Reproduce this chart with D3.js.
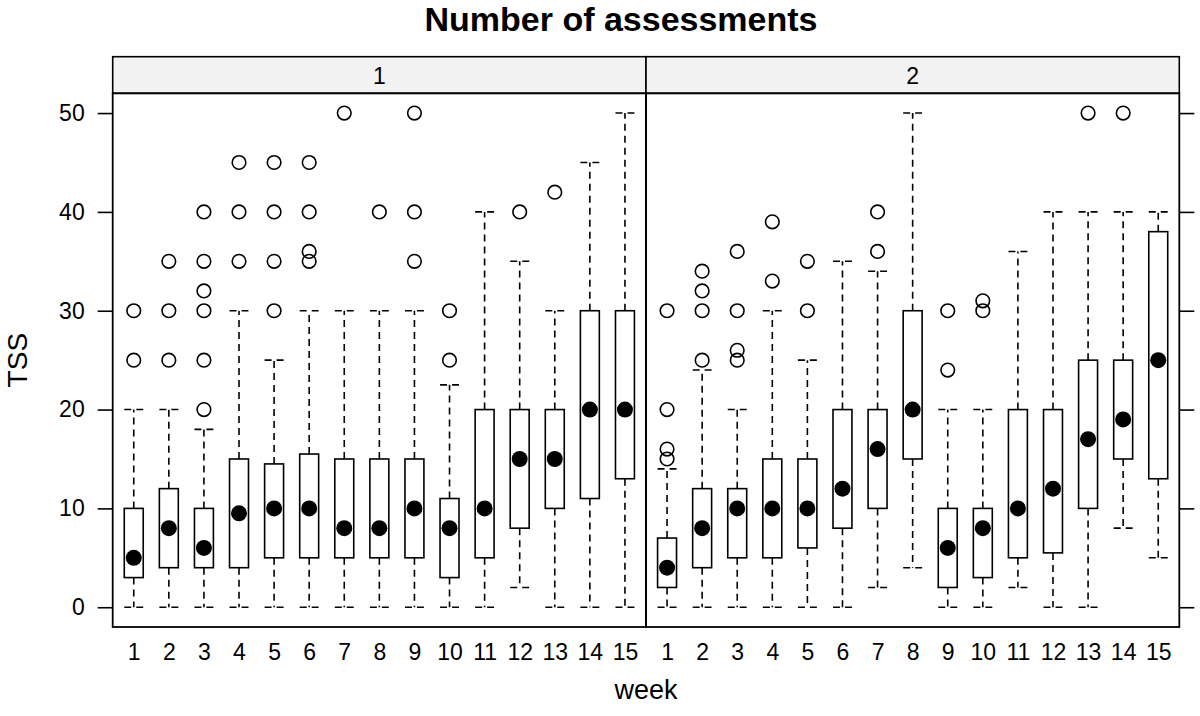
<!DOCTYPE html>
<html>
<head>
<meta charset="utf-8">
<script src="https://cdn.jsdelivr.net/npm/d3@7"></script>
<style>
  body { margin: 0; background: #fff; }
  svg text { font-family: "Liberation Sans", Arial, Helvetica, sans-serif; fill: #000; }
</style>
</head>
<body>
<div id="chart"></div>
<script>
const width = 1200, height = 716;

// Data: weeks and five-number summaries [lower whisker, Q1, median, Q3, upper whisker]
const weeks = ["1", "2", "3", "4", "5", "6", "7", "8", "9", "10", "11", "12", "13", "14", "15"];
const panelNames = ["1", "2"];
const yTicks = [0, 10, 20, 30, 40, 50];

const panel1Stats = [
    [0, 3, 5, 10, 20], [0, 4, 8, 12, 20], [0, 4, 6, 10, 18], [0, 4, 9.5, 15, 30],
    [0, 5, 10, 14.5, 25], [0, 5, 10, 15.5, 30], [0, 5, 8, 15, 30], [0, 5, 8, 15, 30],
    [0, 5, 10, 15, 30], [0, 3, 8, 11, 22.5], [0, 5, 10, 20, 40], [2, 8, 15, 20, 35],
    [0, 10, 15, 20, 30], [0, 11, 20, 30, 45], [0, 13, 20, 30, 50]
];
const panel1Outliers = [
    [25, 30], [25, 30, 35], [20, 25, 30, 32, 35, 40], [35, 40, 45],
    [30, 35, 40, 45], [35, 36, 40, 45], [50], [40],
    [35, 40, 50], [25, 30], [], [40],
    [42], [], []
];

const panel2Stats = [
    [0, 2, 4, 7, 14], [0, 4, 8, 12, 24], [0, 5, 10, 12, 20], [0, 5, 10, 15, 30],
    [0, 6, 10, 15, 25], [0, 8, 12, 20, 35], [2, 10, 16, 20, 34], [4, 15, 20, 30, 50],
    [0, 2, 6, 10, 20], [0, 3, 8, 10, 20], [2, 5, 10, 20, 36], [0, 5.5, 12, 20, 40],
    [0, 10, 17, 25, 40], [8, 15, 19, 25, 40], [5, 13, 25, 38, 40]
];
const panel2Outliers = [
    [15, 16, 20, 30], [25, 30, 32, 34], [25, 26, 30, 36], [33, 39],
    [30, 35], [], [36, 40], [],
    [24, 30], [30, 31], [], [],
    [50], [50], []
];

const panels = [
    { name: panelNames[0], stats: panel1Stats, outliers: panel1Outliers },
    { name: panelNames[1], stats: panel2Stats, outliers: panel2Outliers }
];

// Layout
const plotLeft = 112.7, plotRight = 1179.3;
const stripTop = 56.7, stripBottom = 93.3, plotBottom = 627;
const panelWidth = (plotRight - plotLeft) / 2;

const svg = d3.select("#chart").append("svg")
    .attr("width", width)
    .attr("height", height);

const y = d3.scaleLinear()
    .domain([-2, 52])
    .range([plotBottom, stripBottom]);

// Title
svg.append("text")
    .attr("x", 621)
    .attr("y", 31)
    .attr("text-anchor", "middle")
    .style("font-size", "34px")
    .style("font-weight", "bold")
    .text("Number of assessments");

// Axis titles
svg.append("text")
    .attr("transform", `translate(27,${(stripBottom + plotBottom) / 2}) rotate(-90)`)
    .attr("text-anchor", "middle")
    .style("font-size", "28px")
    .text("TSS");

svg.append("text")
    .attr("x", (plotLeft + plotRight) / 2)
    .attr("y", 699)
    .attr("text-anchor", "middle")
    .style("font-size", "27px")
    .text("week");

// Left and right y axes
const yLeft = svg.append("g")
    .attr("transform", `translate(${plotLeft},0)`)
    .call(d3.axisLeft(y).tickValues(yTicks).tickSize(15).tickPadding(13));
yLeft.select(".domain").remove();
yLeft.selectAll("text").style("font-size", "23px");

const yRight = svg.append("g")
    .attr("transform", `translate(${plotRight},0)`)
    .call(d3.axisRight(y).tickValues(yTicks).tickSize(15).tickFormat(""));
yRight.select(".domain").remove();

svg.selectAll(".tick line").attr("stroke", "#000").attr("stroke-width", 1.6);

panels.forEach((p, i) => {
    const x0 = plotLeft + i * panelWidth;
    const x = d3.scalePoint()
        .domain(weeks)
        .range([x0, x0 + panelWidth])
        .padding(0.6);
    const boxW = x.step() * 0.54;

    // Strip
    svg.append("rect")
        .attr("x", x0).attr("y", stripTop)
        .attr("width", panelWidth).attr("height", stripBottom - stripTop)
        .attr("fill", "#f2f2f2")
        .attr("stroke", "#000").attr("stroke-width", 1.6);
    svg.append("text")
        .attr("x", x0 + panelWidth / 2)
        .attr("y", (stripTop + stripBottom) / 2 + 8.5)
        .attr("text-anchor", "middle")
        .style("font-size", "23px")
        .text(p.name);

    // Week labels
    const xAxis = svg.append("g")
        .attr("transform", `translate(0,${plotBottom})`)
        .call(d3.axisBottom(x).tickSize(0).tickPadding(17));
    xAxis.select(".domain").remove();
    xAxis.selectAll("text").style("font-size", "23px");

    const g = svg.append("g");

    p.stats.forEach((s, j) => {
        const cx = x(weeks[j]);
        const [lo, q1, med, q3, hi] = s;

        // whiskers
        g.append("line")
            .attr("x1", cx).attr("x2", cx)
            .attr("y1", y(q3)).attr("y2", y(hi))
            .attr("stroke", "#000").attr("stroke-width", 1.6)
            .attr("stroke-dasharray", "7,5");
        g.append("line")
            .attr("x1", cx).attr("x2", cx)
            .attr("y1", y(q1)).attr("y2", y(lo))
            .attr("stroke", "#000").attr("stroke-width", 1.6)
            .attr("stroke-dasharray", "7,5");

        // staples
        [lo, hi].forEach(v => {
            g.append("line")
                .attr("x1", cx - boxW / 2).attr("x2", cx + boxW / 2)
                .attr("y1", y(v)).attr("y2", y(v))
                .attr("stroke", "#000").attr("stroke-width", 1.6)
                .attr("stroke-dasharray", "7,5");
        });

        // box
        g.append("rect")
            .attr("x", cx - boxW / 2)
            .attr("y", y(q3))
            .attr("width", boxW)
            .attr("height", y(q1) - y(q3))
            .attr("fill", "#fff")
            .attr("stroke", "#000").attr("stroke-width", 1.6);

        // median dot
        g.append("circle")
            .attr("cx", cx).attr("cy", y(med))
            .attr("r", 8)
            .attr("fill", "#000");

        // outliers
        p.outliers[j].forEach(v => {
            g.append("circle")
                .attr("cx", cx).attr("cy", y(v))
                .attr("r", 6.8)
                .attr("fill", "none")
                .attr("stroke", "#000").attr("stroke-width", 1.6);
        });
    });

    // Panel border
    svg.append("rect")
        .attr("x", x0).attr("y", stripBottom)
        .attr("width", panelWidth).attr("height", plotBottom - stripBottom)
        .attr("fill", "none")
        .attr("stroke", "#000").attr("stroke-width", 1.8);
});
</script>
</body>
</html>
